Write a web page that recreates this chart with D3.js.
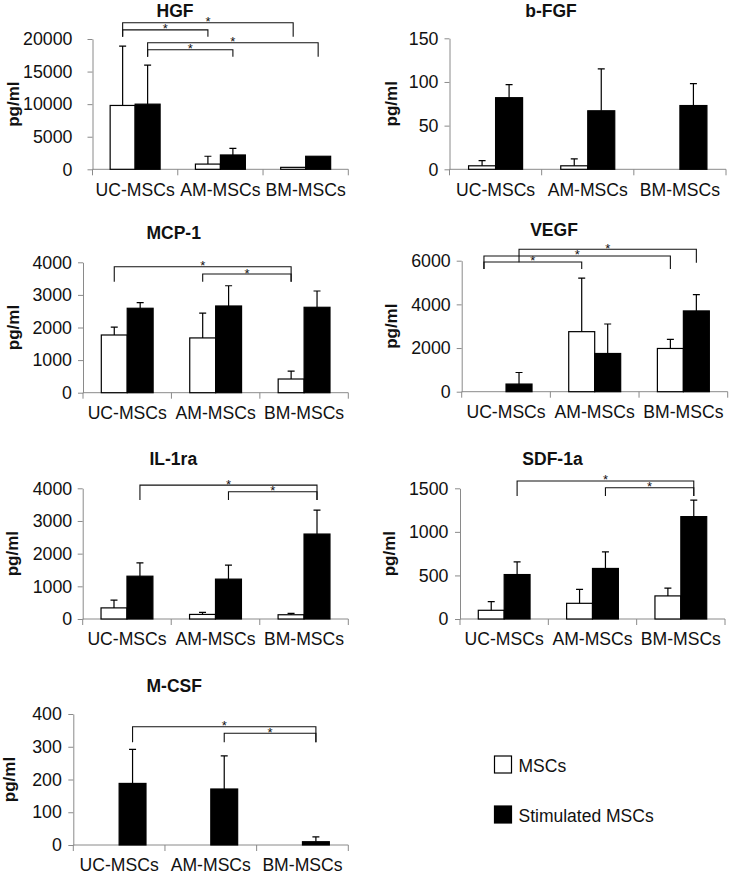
<!DOCTYPE html>
<html><head><meta charset="utf-8">
<script src="https://cdn.jsdelivr.net/npm/d3@7/dist/d3.min.js"></script>
<style>body{margin:0;background:#fff}</style>
</head><body>
<svg id="chart" width="730" height="874"></svg>
<script>
// ---------------- DATA ----------------
const categories = ["UC-MSCs", "AM-MSCs", "BM-MSCs"];
const seriesNames = ["MSCs", "Stimulated MSCs"];
const yLabel = "pg/ml";

const hgfMSC = [9800, 800, 300],   hgfMSCsd = [9100, 1200, 0];
const hgfStim = [10000, 2200, 2000], hgfStimSd = [6000, 1000, 0];
const hgfTicks = [0, 5000, 10000, 15000, 20000];

const bfgfMSC = [4, 4, 0],    bfgfMSCsd = [6, 8, 0];
const bfgfStim = [82, 67, 73], bfgfStimSd = [15, 48, 25];
const bfgfTicks = [0, 50, 100, 150];

const mcpMSC = [1770, 1680, 420],  mcpMSCsd = [240, 760, 240];
const mcpStim = [2590, 2660, 2620], mcpStimSd = [170, 620, 500];
const mcpTicks = [0, 1000, 2000, 3000, 4000];

const vegfMSC = [0, 2750, 1980],   vegfMSCsd = [0, 2450, 420];
const vegfStim = [350, 1750, 3700], vegfStimSd = [530, 1350, 750];
const vegfTicks = [0, 2000, 4000, 6000];

const il1raMSC = [340, 140, 130],    il1raMSCsd = [240, 60, 40];
const il1raStim = [1310, 1220, 2600], il1raStimSd = [410, 430, 730];
const il1raTicks = [0, 1000, 2000, 3000, 4000];

const sdfMSC = [100, 180, 265],   sdfMSCsd = [100, 160, 90];
const sdfStim = [510, 580, 1175], sdfStimSd = [145, 190, 190];
const sdfTicks = [0, 500, 1000, 1500];

const mcsfMSC = [0, 0, 0],       mcsfMSCsd = [0, 0, 0];
const mcsfStim = [188, 171, 10], mcsfStimSd = [104, 101, 15];
const mcsfTicks = [0, 100, 200, 300, 400];

// significance comparisons: from [category, series] to [category, series], bracket level & leg ends (data units)
const hgfSig = [
  {from: [0, 0], to: [1, 0], level: 21400, legA: 20350, legB: 20350},
  {from: [0, 0], to: [2, 0], level: 22500, legA: 20350, legB: 20350},
  {from: [0, 1], to: [1, 1], level: 18350, legA: 17280, legB: 17280},
  {from: [0, 1], to: [2, 1], level: 19430, legA: 17280, legB: 17280}
];
const bfgfSig = [];
const mcpSig = [
  {from: [0, 0], to: [2, 0], level: 3865, legA: 3405, legB: 3405},
  {from: [1, 0], to: [2, 0], level: 3641, legA: 3405, legB: 3405}
];
const vegfSig = [
  {from: [0, -0.35], to: [1, 0], level: 5941, legA: 5621, legB: 5621},
  {from: [0, -0.35], to: [2, 0], level: 6216, legA: 5621, legB: 5621},
  {from: [0, 1], to: [2, 1], level: 6523, legA: 5930, legB: 5910}
];
const il1raSig = [
  {from: [0, 1], to: [2, 1], level: 4098, legA: 3639, legB: 3639},
  {from: [1, 1], to: [2, 1], level: 3893, legA: 3639, legB: 3639}
];
const sdfSig = [
  {from: [0, 1], to: [2, 1], level: 1584, legA: 1412, legB: 1412},
  {from: [1, 1], to: [2, 1], level: 1507, legA: 1412, legB: 1412}
];
const mcsfSig = [
  {from: [0, 1], to: [2, 1], level: 361, legA: 314, legB: 314},
  {from: [1, 1], to: [2, 1], level: 341, legA: 314, legB: 314}
];

// ---------------- LAYOUT ----------------
const panels = [
  {title: "HGF",    msc: hgfMSC, mscSd: hgfMSCsd, stim: hgfStim, stimSd: hgfStimSd, ticks: hgfTicks, sig: hgfSig,
   left: 92.5, right: 348.3, top: 39, base: 169.3, titleX: 175, titleY: 16.5, ylabX: 19, pad: 15},
  {title: "b-FGF",  msc: bfgfMSC, mscSd: bfgfMSCsd, stim: bfgfStim, stimSd: bfgfStimSd, ticks: bfgfTicks, sig: bfgfSig,
   left: 449.5, right: 726, top: 38.3, base: 169.3, titleX: 551, titleY: 17, ylabX: 396.5, pad: 6},
  {title: "MCP-1",  msc: mcpMSC, mscSd: mcpMSCsd, stim: mcpStim, stimSd: mcpStimSd, ticks: mcpTicks, sig: mcpSig,
   left: 83, right: 348.3, top: 262.3, base: 392.7, titleX: 173.7, titleY: 239.3, ylabX: 19, pad: 6},
  {title: "VEGF",   msc: vegfMSC, mscSd: vegfMSCsd, stim: vegfStim, stimSd: vegfStimSd, ticks: vegfTicks, sig: vegfSig,
   left: 461.7, right: 727.7, top: 260.7, base: 391.7, titleX: 554, titleY: 236, ylabX: 396.5, pad: 6},
  {title: "IL-1ra", msc: il1raMSC, mscSd: il1raMSCsd, stim: il1raStim, stimSd: il1raStimSd, ticks: il1raTicks, sig: il1raSig,
   left: 82.7, right: 348.3, top: 488.3, base: 619, titleX: 173.3, titleY: 465, ylabX: 18, pad: 5.5},
  {title: "SDF-1a", msc: sdfMSC, mscSd: sdfMSCsd, stim: sdfStim, stimSd: sdfStimSd, ticks: sdfTicks, sig: sdfSig,
   left: 460, right: 725, top: 488.3, base: 619, titleX: 552.5, titleY: 465, ylabX: 395, pad: 6.5},
  {title: "M-CSF",  msc: mcsfMSC, mscSd: mcsfMSCsd, stim: mcsfStim, stimSd: mcsfStimSd, ticks: mcsfTicks, sig: mcsfSig,
   left: 73.3, right: 348.3, top: 714, base: 845, titleX: 174.2, titleY: 691.7, ylabX: 15, pad: 6.5}
];

const FONT = "'Liberation Sans', Arial, Helvetica, sans-serif";
const AXIS = "#8a8a8a";
const TXT = "#111";
const svg = d3.select("#chart");
svg.append("rect").attr("width", 730).attr("height", 874).attr("fill", "#fff");

const fillScale = d3.scaleOrdinal().domain(seriesNames).range(["#ffffff", "#000000"]);

function drawPanel(p) {
  const g = svg.append("g");
  const x = d3.scaleBand().domain(categories).range([p.left, p.right]).paddingInner(0).paddingOuter(0);
  const y = d3.scaleLinear().domain([0, d3.max(p.ticks)]).range([p.base, p.top]);
  const bw = x.bandwidth() * 0.293;
  const barX = (ci, si) => x(categories[ci]) + x.bandwidth() / 2 - bw + si * bw;
  const barC = (ci, si) => barX(ci, si) + bw / 2;

  // y axis
  const ya = g.append("g").attr("transform", `translate(${p.left},0)`)
    .call(d3.axisLeft(y).tickValues(p.ticks).tickSizeInner(5).tickSizeOuter(0).tickPadding(p.pad).tickFormat(d3.format("d")));
  ya.select(".domain").attr("stroke", AXIS);
  ya.selectAll(".tick line").attr("stroke", AXIS);
  ya.selectAll(".tick text").attr("font-family", FONT).attr("font-size", 17.8).attr("fill", TXT);

  // x axis baseline + boundary ticks
  g.append("line").attr("x1", p.left).attr("x2", p.right).attr("y1", y(0)).attr("y2", y(0)).attr("stroke", AXIS);
  const bounds = categories.map(c => x(c)).concat([x.range()[1]]);
  g.selectAll(".bt").data(bounds).join("line")
    .attr("x1", d => d).attr("x2", d => d).attr("y1", y(0)).attr("y2", y(0) + 6).attr("stroke", AXIS);
  const xa = g.append("g").attr("transform", `translate(0,${y(0)})`)
    .call(d3.axisBottom(x).tickSize(0).tickPadding(14));
  xa.select(".domain").remove();
  xa.selectAll(".tick text").attr("font-family", FONT).attr("font-size", 17.6).attr("fill", TXT);

  // bars
  const rows = [];
  categories.forEach((c, ci) => {
    rows.push({ci, si: 0, v: p.msc[ci], sd: p.mscSd[ci]});
    rows.push({ci, si: 1, v: p.stim[ci], sd: p.stimSd[ci]});
  });
  const shown = rows.filter(r => r.v > 0);
  g.selectAll(".bar").data(shown).join("rect")
    .attr("x", r => barX(r.ci, r.si)).attr("width", bw)
    .attr("y", r => y(r.v)).attr("height", r => y(0) - y(r.v))
    .attr("fill", r => fillScale(seriesNames[r.si])).attr("stroke", "#000").attr("stroke-width", 1.2);

  // error bars (upper)
  const errs = rows.filter(r => r.sd > 0);
  g.selectAll(".eb").data(errs).join("path")
    .attr("d", r => {
      const cx = barC(r.ci, r.si), y1 = y(r.v), y2 = y(r.v + r.sd);
      return `M${cx},${y1}V${y2}M${cx - 3.5},${y2}H${cx + 3.5}`;
    })
    .attr("fill", "none").attr("stroke", "#000").attr("stroke-width", 1.2);

  // significance brackets
  g.selectAll(".sig").data(p.sig).join("path")
    .attr("d", s => {
      const xa_ = barC(s.from[0], s.from[1]), xb = barC(s.to[0], s.to[1]);
      return `M${xa_},${y(s.legA)}V${y(s.level)}H${xb}V${y(s.legB)}`;
    })
    .attr("fill", "none").attr("stroke", "#111").attr("stroke-width", 1.1);
  g.selectAll(".star").data(p.sig).join("text")
    .attr("x", s => (barC(s.from[0], s.from[1]) + barC(s.to[0], s.to[1])) / 2)
    .attr("y", s => y(s.level) + 3.5)
    .attr("text-anchor", "middle").attr("font-family", FONT).attr("font-size", 13).attr("fill", TXT)
    .text("*");

  // title
  g.append("text").attr("x", p.titleX).attr("y", p.titleY).attr("text-anchor", "middle")
    .attr("font-family", FONT).attr("font-size", 17.5).attr("font-weight", "bold").attr("fill", TXT).text(p.title);

  // y label
  const my = (y.range()[0] + y.range()[1]) / 2;
  g.append("text").attr("transform", `translate(${p.ylabX},${my}) rotate(-90)`).attr("text-anchor", "middle")
    .attr("font-family", FONT).attr("font-size", 17).attr("font-weight", "bold").attr("fill", TXT).text(yLabel);
}

panels.forEach(drawPanel);

// legend
const leg = svg.append("g").attr("transform", "translate(494.5,756)");
const li = leg.selectAll("g").data(seriesNames).join("g").attr("transform", (d, i) => `translate(0,${i * 50})`);
li.append("rect").attr("width", 17).attr("height", 17).attr("fill", d => fillScale(d)).attr("stroke", "#000").attr("stroke-width", 1.2);
li.append("text").attr("x", 24).attr("y", 15.5).attr("font-family", FONT).attr("font-size", 17.5).attr("fill", TXT).text(d => d);
</script>
</body></html>
